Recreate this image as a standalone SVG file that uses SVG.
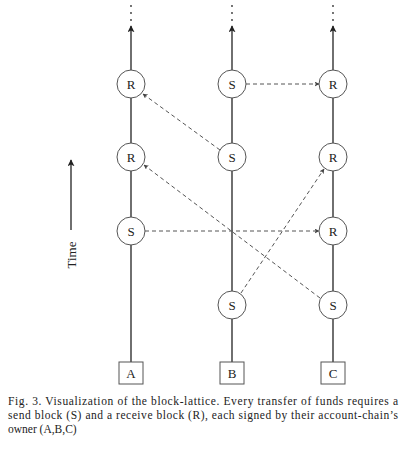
<svg xmlns="http://www.w3.org/2000/svg" width="405" height="450" viewBox="0 0 405 450">
<defs>
<marker id="ah" viewBox="0 0 10 10" refX="9" refY="5" markerWidth="7" markerHeight="7" orient="auto" markerUnits="userSpaceOnUse">
<path d="M0,0 L10,5 L0,10 L2.5,5 Z" fill="#222"/>
</marker>
<marker id="ahs" viewBox="0 0 10 10" refX="9" refY="5" markerWidth="5" markerHeight="5" orient="auto" markerUnits="userSpaceOnUse">
<path d="M0,0 L10,5 L0,10 L2.5,5 Z" fill="#444"/>
</marker>
<style>
.chain{stroke:#333;stroke-width:1.4;fill:none}
.dash{stroke:#555;stroke-width:1;stroke-dasharray:4,3;fill:none}
.node circle{fill:#fff;stroke:#555;stroke-width:1}
.node rect{fill:#fff;stroke:#555;stroke-width:1}
.lbl{font-family:"Liberation Serif",serif;font-size:13px;fill:#222;text-anchor:middle}
.cap{font-family:"Liberation Serif",serif;font-size:11.5px;fill:#222}
.dot{fill:#333}
</style>
</defs>
<rect width="405" height="450" fill="#fff"/>
<g id="connectors">
<line class="chain" x1="131" y1="362" x2="131" y2="26" marker-end="url(#ah)"/>
<line class="chain" x1="232" y1="362" x2="232" y2="26" marker-end="url(#ah)"/>
<line class="chain" x1="333" y1="362" x2="333" y2="26" marker-end="url(#ah)"/>
<line class="chain" x1="71" y1="230" x2="71" y2="160" marker-end="url(#ah)"/>
<line class="dash" x1="220" y1="150" x2="143" y2="94" marker-end="url(#ahs)"/>
<line class="dash" x1="246" y1="84" x2="319" y2="84" marker-end="url(#ahs)"/>
<line class="dash" x1="320" y1="298" x2="144" y2="165" marker-end="url(#ahs)"/>
<line class="dash" x1="241" y1="293" x2="324" y2="169" marker-end="url(#ahs)"/>
<line class="dash" x1="145" y1="231" x2="319" y2="231" marker-end="url(#ahs)"/>
</g>
<g id="dots">
<circle class="dot" cx="131" cy="6" r="0.9"/><circle class="dot" cx="131" cy="13" r="0.9"/><circle class="dot" cx="131" cy="20" r="0.9"/>
<circle class="dot" cx="232" cy="6" r="0.9"/><circle class="dot" cx="232" cy="13" r="0.9"/><circle class="dot" cx="232" cy="20" r="0.9"/>
<circle class="dot" cx="333" cy="6" r="0.9"/><circle class="dot" cx="333" cy="13" r="0.9"/><circle class="dot" cx="333" cy="20" r="0.9"/>
</g>
<g id="A_R1" class="node"><circle cx="131" cy="84" r="14"/><text class="lbl" x="131" y="88.5">R</text></g>
<g id="A_R2" class="node"><circle cx="131" cy="157" r="14"/><text class="lbl" x="131" y="161.5">R</text></g>
<g id="A_S3" class="node"><circle cx="131" cy="231" r="14"/><text class="lbl" x="131" y="235.5">S</text></g>
<g id="B_S1" class="node"><circle cx="232" cy="84" r="14"/><text class="lbl" x="232" y="88.5">S</text></g>
<g id="B_S2" class="node"><circle cx="232" cy="157" r="14"/><text class="lbl" x="232" y="161.5">S</text></g>
<g id="B_S4" class="node"><circle cx="232" cy="305" r="14"/><text class="lbl" x="232" y="309.5">S</text></g>
<g id="C_R1" class="node"><circle cx="333" cy="84" r="14"/><text class="lbl" x="333" y="88.5">R</text></g>
<g id="C_R2" class="node"><circle cx="333" cy="157" r="14"/><text class="lbl" x="333" y="161.5">R</text></g>
<g id="C_R3" class="node"><circle cx="333" cy="231" r="14"/><text class="lbl" x="333" y="235.5">R</text></g>
<g id="C_S4" class="node"><circle cx="333" cy="305" r="14"/><text class="lbl" x="333" y="309.5">S</text></g>
<g id="A" class="node"><rect x="119" y="362" width="24" height="22"/><text class="lbl" x="131" y="377.5">A</text></g>
<g id="B" class="node"><rect x="220" y="362" width="24" height="22"/><text class="lbl" x="232" y="377.5">B</text></g>
<g id="C" class="node"><rect x="321" y="362" width="24" height="22"/><text class="lbl" x="333" y="377.5">C</text></g>
<g id="time"><text class="lbl" transform="translate(75.5,255) rotate(-90)" font-size="14">Time</text></g>
<g id="caption">
<text class="cap" x="8" y="405" textLength="390" lengthAdjust="spacing">Fig. 3.  Visualization of the block-lattice. Every transfer of funds requires a</text>
<text class="cap" x="8" y="419" textLength="390" lengthAdjust="spacing">send block (S) and a receive block (R), each signed by their account-chain’s</text>
<text class="cap" x="8" y="433">owner (A,B,C)</text>
</g>
</svg>
